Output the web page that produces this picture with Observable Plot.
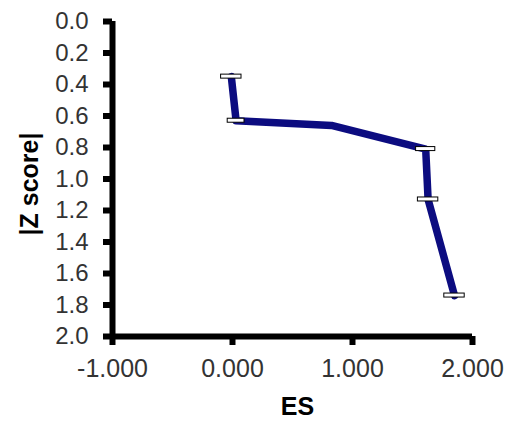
<!DOCTYPE html>
<html>
<head>
<meta charset="utf-8">
<script src="https://cdn.jsdelivr.net/npm/d3@7"></script>
<script src="https://cdn.jsdelivr.net/npm/@observablehq/plot@0.6"></script>
<style>
  html, body { margin: 0; padding: 0; background: #fff; }
  #chart svg { display: block; }
</style>
</head>
<body>
<div id="chart"></div>
<script>
// Data
const esValues = [-0.01, 0.03, 0.825, 1.61, 1.63, 1.85];
const zValues  = [0.35, 0.63, 0.66, 0.81, 1.13, 1.74];
const esErrors = [0.085, 0.07, 0, 0.08, 0.085, 0.085];

const xTicks = [-1, 0, 1, 2];
const yTicks = [0, 0.2, 0.4, 0.6, 0.8, 1.0, 1.2, 1.4, 1.6, 1.8, 2.0];
const xLabel = "ES";
const yLabel = "|Z score|";

const rows = esValues.map((es, i) => ({es, z: zValues[i], err: esErrors[i]}));
const bars = rows.filter(d => d.err > 0);

const font = "'Liberation Sans', Arial, sans-serif";

const chart = Plot.plot({
  width: 505,
  height: 428,
  marginLeft: 112,
  marginRight: 33,
  marginTop: 21,
  marginBottom: 92,
  style: {fontFamily: font, background: "#fff", overflow: "visible"},
  x: {domain: [-1, 2]},
  y: {domain: [0, 2], reverse: true},
  marks: [
    Plot.axisY({
      ticks: yTicks,
      tickFormat: d => d.toFixed(1),
      tickSize: 9,
      tickPadding: 15,
      strokeWidth: 6,
      stroke: "#000",
      fontSize: 24,
      fill: "#333",
      label: null
    }),
    Plot.axisX({
      ticks: xTicks,
      tickFormat: d => d.toFixed(3),
      tickSize: 9,
      tickPadding: 14,
      strokeWidth: 6,
      stroke: "#000",
      fontSize: 25,
      fill: "#333",
      label: null
    }),
    Plot.ruleX([-1], {y1: 0, y2: 2, stroke: "#000", strokeWidth: 6}),
    Plot.ruleY([2], {x1: -1, x2: 2, stroke: "#000", strokeWidth: 6}),
    Plot.line(rows, {x: "es", y: "z", stroke: "#0c0c80", strokeWidth: 7.5, strokeLinejoin: "round", strokeLinecap: "round"}),
    Plot.rect(bars, {
      x1: d => d.es - d.err,
      x2: d => d.es + d.err,
      y1: "z",
      y2: "z",
      insetTop: -2,
      insetBottom: -2,
      fill: "#fff",
      stroke: "#000",
      strokeWidth: 1
    }),
    Plot.text([yLabel], {
      frameAnchor: "left",
      dx: -83,
      dy: 5,
      rotate: -90,
      fontSize: 25,
      fontWeight: "bold",
      fill: "#000",
      textAnchor: "middle"
    }),
    Plot.text([xLabel], {
      frameAnchor: "bottom",
      dx: 5,
      dy: 78,
      fontSize: 25,
      fontWeight: "bold",
      fill: "#000",
      textAnchor: "middle"
    })
  ]
});

document.getElementById("chart").appendChild(chart);
</script>
</body>
</html>
